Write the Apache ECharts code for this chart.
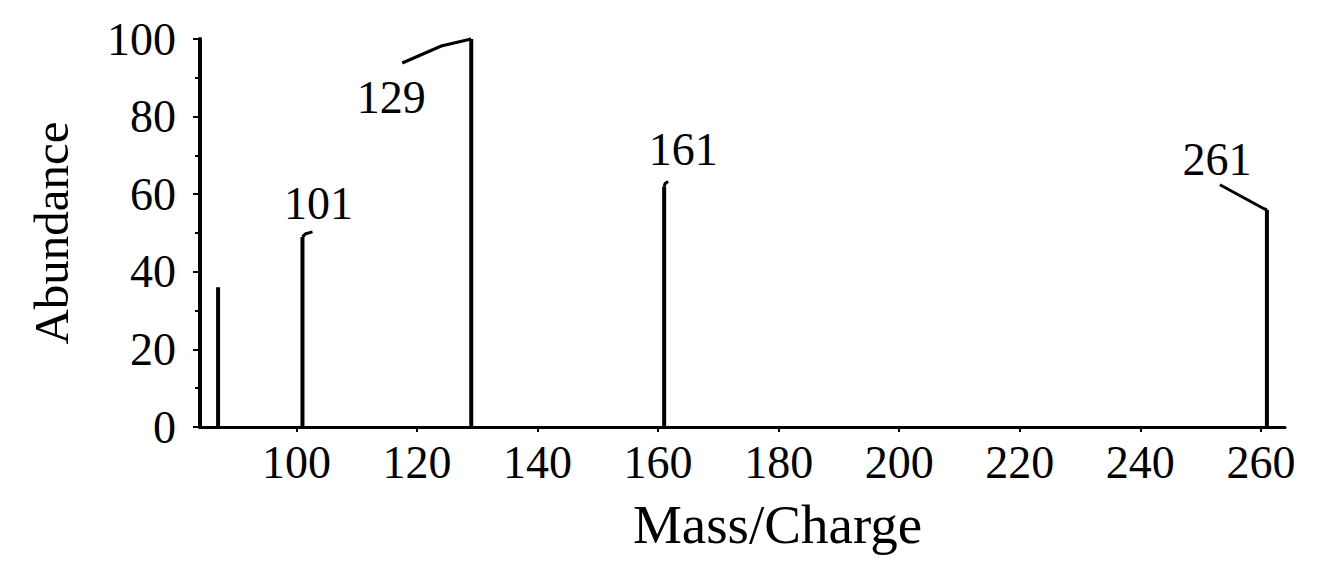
<!DOCTYPE html>
<html>
<head>
<meta charset="utf-8">
<script src="https://cdn.jsdelivr.net/npm/echarts@6/dist/echarts.min.js"></script>
<style>
  html, body { margin: 0; padding: 0; background: #fff; }
  #chart { width: 1320px; height: 561px; }
</style>
</head>
<body>
<div id="chart"></div>
<script>
// ---- data ----
const peakMz = [87, 101, 129, 161, 261];
const peakAbundance = [36, 49, 100, 62, 56];
const labeledMz = [101, 129, 161, 261];
const xTickValues = [100, 120, 140, 160, 180, 200, 220, 240, 260];
const yTickValues = [0, 20, 40, 60, 80, 100];
const xTitle = 'Mass/Charge';
const yTitle = 'Abundance';

// ---- styling (label leader geometry, pixel offsets from peak top) ----
const leaderStyle = {
  101: { line: [[0, 0], [3, -3], [10, -5]], text: [16, -33] },
  129: { line: [[0, 0], [-30, 7], [-69, 24]], text: [-80, 58] },
  161: { line: [[0, 0], [1, -3], [4, -5]], text: [19, -37] },
  261: { line: [[0, 0], [-3, -1], [-47, -25]], text: [-50, -50] }
};

const FONT = 'Liberation Serif';
const barData = peakMz.map((m, i) => [m, peakAbundance[i]]);
const labelData = labeledMz.map(m => [m, peakAbundance[peakMz.indexOf(m)]]);

const chart = echarts.init(document.getElementById('chart'), null, { renderer: 'svg' });
chart.setOption({
  animation: false,
  backgroundColor: '#ffffff',
  grid: { left: 200, right: 35, top: 39, bottom: 134 },
  xAxis: {
    type: 'value',
    min: 84,
    max: 264,
    name: xTitle,
    nameLocation: 'middle',
    nameGap: 70,
    nameTextStyle: { fontFamily: FONT, fontSize: 55, color: '#000', padding: [0, 0, 0, 70] },
    axisLine: { show: true, lineStyle: { color: '#000', width: 3 } },
    axisTick: { show: true, customValues: xTickValues, length: 5, lineStyle: { color: '#000', width: 2 } },
    axisLabel: { customValues: xTickValues, fontFamily: FONT, fontSize: 46, color: '#000', margin: 12 },
    splitLine: { show: false }
  },
  yAxis: {
    type: 'value',
    min: 0,
    max: 100,
    interval: 20,
    name: yTitle,
    nameLocation: 'middle',
    nameGap: 124,
    nameTextStyle: { fontFamily: FONT, fontSize: 49, color: '#000' },
    axisLine: { show: true, lineStyle: { color: '#000', width: 4 } },
    axisTick: { show: true, length: 7, lineStyle: { color: '#000', width: 2 } },
    minorTick: { show: true, splitNumber: 2, length: 5, lineStyle: { color: '#000', width: 2 } },
    axisLabel: { fontFamily: FONT, fontSize: 46, color: '#000', margin: 24 },
    splitLine: { show: false }
  },
  series: [
    {
      type: 'bar',
      data: barData,
      barWidth: 4,
      itemStyle: { color: '#000' },
      clip: false
    },
    {
      type: 'custom',
      data: labelData,
      clip: false,
      renderItem: function (params, api) {
        const m = api.value(0);
        const p = api.coord([m, api.value(1)]);
        const st = leaderStyle[m];
        const pts = st.line.map(o => [p[0] + o[0], p[1] + o[1]]);
        return {
          type: 'group',
          children: [
            { type: 'polyline', shape: { points: pts }, style: { stroke: '#000', lineWidth: 3, fill: null } },
            {
              type: 'text',
              x: p[0] + st.text[0],
              y: p[1] + st.text[1],
              style: {
                text: String(m),
                fontFamily: FONT,
                fontSize: 46,
                fill: '#000',
                align: 'center',
                verticalAlign: 'middle'
              }
            }
          ]
        };
      }
    }
  ]
});
</script>
</body>
</html>
